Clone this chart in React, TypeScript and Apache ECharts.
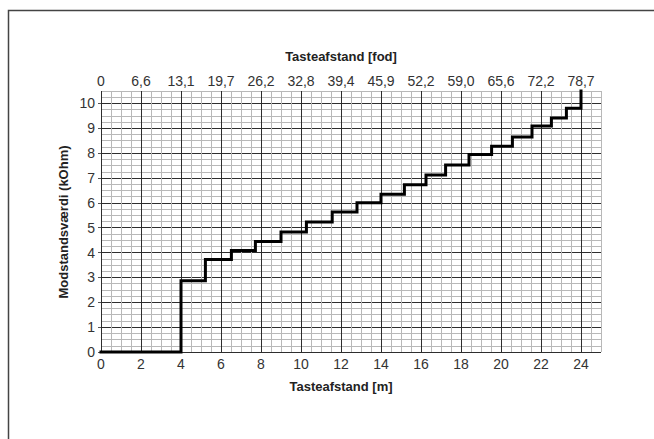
import React, { useEffect, useRef } from "react";
import * as echarts from "echarts";

// Step curve: distance (m) where each level starts, and resistance level (kOhm)
const stepStartM = [0, 4, 5.22, 6.52, 7.72, 9.0, 10.27, 11.56, 12.8, 14.0, 15.17, 16.25, 17.23, 18.4, 19.53, 20.57, 21.55, 22.52, 23.27, 24];
const resistanceKOhm = [0, 2.87, 3.72, 4.08, 4.45, 4.83, 5.23, 5.63, 6.0, 6.35, 6.73, 7.12, 7.52, 7.95, 8.28, 8.65, 9.09, 9.41, 9.81, 10.5];

// Tick labels
const meterTicks = [0, 2, 4, 6, 8, 10, 12, 14, 16, 18, 20, 22, 24];
const feetTickLabels = ["0", "6,6", "13,1", "19,7", "26,2", "32,8", "39,4", "45,9", "52,2", "59,0", "65,6", "72,2", "78,7"];
const kOhmTicks = [0, 1, 2, 3, 4, 5, 6, 7, 8, 9, 10];

const xTitleBottom = "Tasteafstand [m]";
const xTitleTop = "Tasteafstand [fod]";
const yTitle = "Modstandsværdi (kOhm)";

const FONT = "'Liberation Sans', Arial, Helvetica, sans-serif";
const DARK = "#2e2e2e";
const LIGHT = "#b8b8b8";

export default function App() {
  const ref = useRef<HTMLDivElement>(null);

  useEffect(() => {
    if (!ref.current) return;
    const chart = echarts.init(ref.current, undefined, { renderer: "svg" });
    const data = stepStartM.map((x, i) => [x, resistanceKOhm[i]]);

    chart.setOption({
      animation: false,
      backgroundColor: "#fff",
      grid: { left: 101, right: 53, top: 91, bottom: 87, containLabel: false },
      xAxis: [
        {
          type: "value",
          position: "bottom",
          min: 0,
          max: 25,
          interval: 0.5,
          axisLine: { show: false },
          axisTick: { show: false },
          axisLabel: {
            margin: 5,
            fontSize: 14,
            fontFamily: FONT,
            color: "#333",
            showMaxLabel: false,
            formatter: (v: number) => (meterTicks.indexOf(v) >= 0 ? String(v) : ""),
          },
          splitLine: {
            show: true,
            lineStyle: { color: [DARK, LIGHT, LIGHT, LIGHT], width: 1 },
          },
        },
        {
          type: "value",
          position: "top",
          min: 0,
          max: 25,
          interval: 0.5,
          axisLine: { show: false },
          axisTick: { show: false },
          splitLine: { show: false },
          axisLabel: {
            margin: 3,
            fontSize: 14,
            fontFamily: FONT,
            color: "#333",
            showMaxLabel: false,
            formatter: (v: number) => {
              const i = meterTicks.indexOf(v);
              return i >= 0 ? feetTickLabels[i] : "";
            },
          },
        },
      ],
      yAxis: [
        {
          type: "value",
          min: 0,
          max: 10.5,
          interval: 0.25,
          axisLine: { show: false },
          axisTick: { show: false },
          axisLabel: {
            margin: 6,
            fontSize: 14,
            fontFamily: FONT,
            color: "#333",
            showMaxLabel: false,
            formatter: (v: number) => (kOhmTicks.indexOf(v) >= 0 ? String(v) : ""),
          },
          splitLine: {
            show: true,
            lineStyle: { color: [DARK, LIGHT, LIGHT, LIGHT], width: 1 },
          },
        },
        {
          type: "value",
          position: "left",
          min: 0,
          max: 10.5,
          interval: 1,
          axisLine: { show: false },
          axisLabel: { show: false },
          splitLine: { show: false },
          axisTick: {
            show: true,
            length: 3,
            customValues: kOhmTicks,
            lineStyle: { color: "#555", width: 1 },
          },
        },
      ],
      series: [
        {
          type: "line",
          xAxisIndex: 0,
          yAxisIndex: 0,
          step: "end",
          data,
          showSymbol: false,
          symbol: "none",
          lineStyle: { color: "#000", width: 3, cap: "square", join: "miter" },
          clip: false,
          z: 10,
        },
      ],
      graphic: [
        {
          type: "rect",
          silent: true,
          shape: { x: 8.5, y: 10.5, width: 700, height: 500 },
          style: { fill: "none", stroke: "#444", lineWidth: 1.5 },
          z: 100,
        },
        {
          type: "text",
          x: 341,
          y: 56,
          style: {
            text: xTitleTop,
            font: `bold 13px ${FONT}`,
            fill: "#222",
            textAlign: "center",
            textVerticalAlign: "middle",
          },
        },
        {
          type: "text",
          x: 341,
          y: 386,
          style: {
            text: xTitleBottom,
            font: `bold 13px ${FONT}`,
            fill: "#222",
            textAlign: "center",
            textVerticalAlign: "middle",
          },
        },
        {
          type: "text",
          x: 63,
          y: 222,
          rotation: Math.PI / 2,
          style: {
            text: yTitle,
            font: `bold 13px ${FONT}`,
            fill: "#222",
            textAlign: "center",
            textVerticalAlign: "middle",
          },
        },
      ],
    });

    return () => chart.dispose();
  }, []);

  return (
    <div
      ref={ref}
      style={{ position: "fixed", left: 0, top: 0, width: 654, height: 439 }}
    />
  );
}
